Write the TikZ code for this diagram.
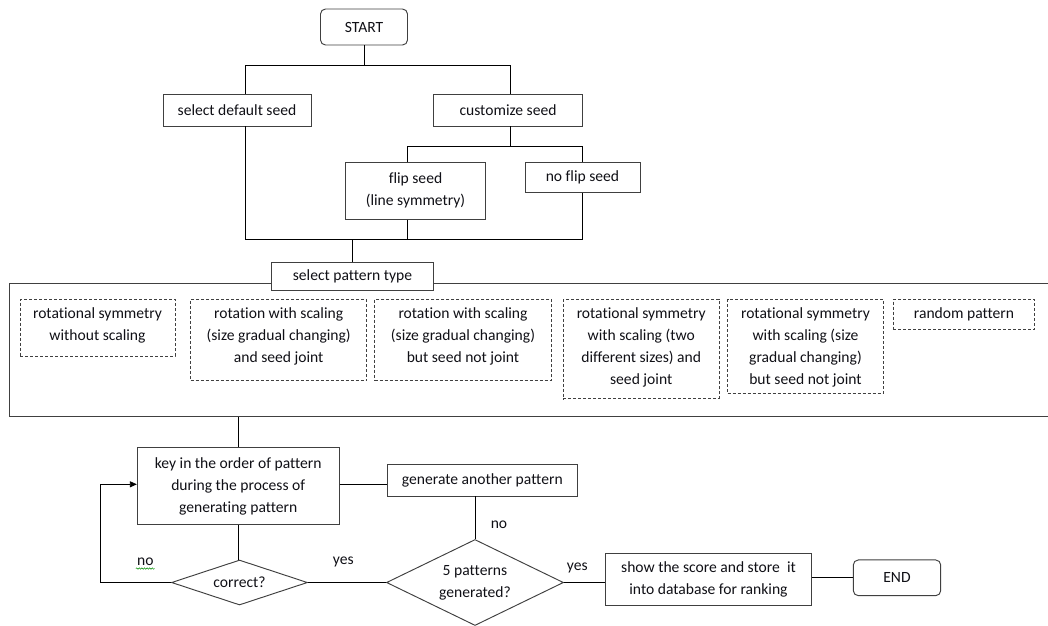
\documentclass[tikz,border=0pt]{standalone}
\usepackage{fontspec}
\setmainfont{Carlito}[Ligatures=CommonOff]
\usetikzlibrary{shapes.geometric,arrows.meta,decorations.pathmorphing}
\definecolor{boxc}{RGB}{64,64,64}
\definecolor{txtc}{RGB}{16,16,22}
\newcommand{\dtxt}[3]{\parbox[t][#2pt][t]{#1pt}{\centering\rule{0pt}{19pt}#3}}
\begin{document}
\begin{tikzpicture}[x=1pt,y=-1pt,
  every node/.style={font=\fontsize{15.6}{22}\selectfont, text=txtc},
  box/.style={draw=boxc, line width=0.95pt, rectangle, align=center, inner sep=0pt, fill=white},
  term/.style={box, rounded corners=5pt},
  dbox/.style={draw=boxc, line width=0.8pt, dash pattern=on 3pt off 2pt, inner sep=0pt},
  dec/.style={draw=boxc, line width=0.95pt, diamond, align=center, inner sep=0pt},
  conn/.style={draw=black, line width=0.85pt},
  lbl/.style={inner sep=0pt}]
\useasboundingbox (0,0) rectangle (1048,625);
\clip (0,0) rectangle (1048,625);

% container
\node[draw=boxc, line width=0.95pt, inner sep=0pt, minimum width=1051.3pt, minimum height=133.3pt, anchor=north west] (cont) at (8.7,282.7) {};

% top nodes
\node[term, minimum width=87pt, minimum height=36pt] (start) at (364,27) {START};
\node[box, minimum width=148pt, minimum height=32pt] (def) at (237,110) {select default seed};
\node[box, minimum width=149pt, minimum height=32pt] (cust) at (508,110) {customize seed};
\node[box, minimum width=140pt, minimum height=57pt] (flip) at (415.5,190.7) {flip seed\\(line symmetry)};
\node[box, minimum width=115pt, minimum height=30pt] (noflip) at (582.5,177.3) {no flip seed};
\node[box, minimum width=162pt, minimum height=28pt] (sel) at (352.5,276.8) {select pattern type};

% dashed pattern boxes
\node[dbox] (d1) at (97.5,327.7) {\dtxt{155}{56.7}{rotational symmetry\\without scaling}};
\node[dbox] (d2) at (278.7,340) {\dtxt{176}{81.4}{rotation with scaling\\(size gradual changing)\\and seed joint}};
\node[dbox] (d3) at (463,340) {\dtxt{176.6}{81.4}{rotation with scaling\\(size gradual changing)\\but seed not joint}};
\node[dbox] (d4) at (641.2,349) {\dtxt{155.7}{99.4}{rotational symmetry\\with scaling (two\\different sizes) and\\seed joint}};
\node[dbox] (d5) at (805.5,346.3) {\dtxt{155.6}{94}{rotational symmetry\\with scaling (size\\gradual changing)\\but seed not joint}};
\node[dbox] (d6) at (964,314.3) {\dtxt{141.4}{30}{random pattern}};

% bottom nodes
\node[box, minimum width=201.7pt, minimum height=77.3pt] (key) at (238.2,486.3) {key in the order of pattern\\during the process of\\generating pattern};
\node[box, minimum width=190pt, minimum height=32pt] (gen) at (482.3,480) {generate another pattern};
\node[dec, aspect=3, minimum width=136pt, minimum height=45pt] (cor) at (239.5,582.5) {correct?};
\node[dec, aspect=2, minimum width=177pt, minimum height=86pt] (pat) at (475,582.5) {5 patterns\\generated?};
\node[box, minimum width=205.6pt, minimum height=52.4pt] (show) at (708.5,579.5) {show the score and store\ \ it\\into database for ranking};
\node[term, minimum width=87.4pt, minimum height=35.7pt] (endn) at (897,577.8) {END};

% labels
\node[lbl] (lno1) at (499,524.3) {no};
\node[lbl] (lyes1) at (343.3,561.7) {yes};
\node[lbl] (lno2) at (145.3,561.7) {no};
\node[lbl] (lyes2) at (577.3,567.7) {yes};
\draw[green!55!black, line width=0.5pt, decorate, decoration={snake, amplitude=0.7pt, segment length=2.6pt}]
  ([xshift=-1pt,yshift=-2.8pt]lno2.south west) -- ([xshift=1pt,yshift=-2.8pt]lno2.south east);

% junction coordinates
\coordinate (ja) at (245,65.3);
\coordinate (jb) at (510,65.3);
\coordinate (je) at (407.7,146);
\coordinate (jf) at (582.7,146);
\coordinate (jc) at (245,239);
\coordinate (jd) at (582.7,239);
\coordinate (jh) at (0,484.3);
\coordinate (jl) at (100,484.3);

% connectors
\draw[conn] (start.south) -- (start.south |- ja);
\draw[conn] (def.north -| ja) -- (ja) -- (jb) -- (cust.north -| jb);
\draw[conn] (cust.south -| jb) -- (jb |- je);
\draw[conn] (flip.north -| je) -- (je) -- (jf) -- (noflip.north -| jf);
\draw[conn] (def.south -| ja) -- (jc) -- (jd) -- (noflip.south -| jd);
\draw[conn] (flip.south -| je) -- (je |- jc);
\draw[conn] (sel.north) -- (sel.north |- jc);
\draw[conn] (key.north) -- (key.north |- cont.south);
\draw[conn] (key.east |- jh) -- (gen.west |- jh);
\draw[conn] (gen.south -| pat.north) -- (pat.north);
\draw[conn] (key.south) -- (key.south |- cor.north);
\draw[conn] (cor.east) -- (pat.west);
\draw[conn, -{Triangle[length=7pt,width=6pt]}] (cor.west) -- (cor.west -| jl) -- (jl) -- (key.west |- jl);
\draw[conn] (pat.east) -- (pat.east -| show.west);
\draw[conn] (endn.west -| show.east) -- (endn.west);
\end{tikzpicture}
\end{document}
